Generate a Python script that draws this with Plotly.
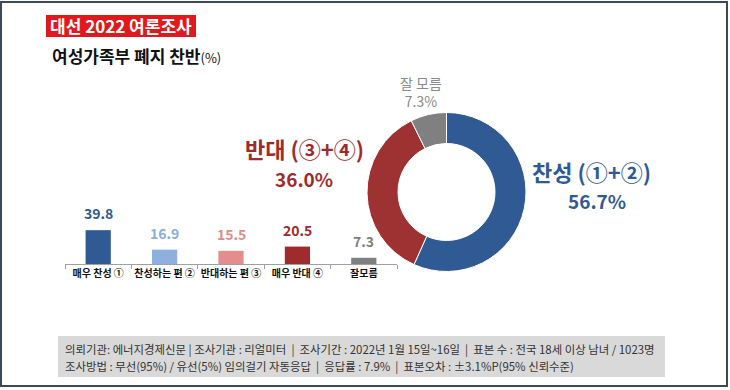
import plotly.graph_objects as go

W, H = 730, 390

# ---- data ----
categories = ["매우 찬성 ①", "찬성하는 편 ②", "반대하는 편 ③", "매우 반대 ④", "잘모름"]
values = [39.8, 16.9, 15.5, 20.5, 7.3]
bar_colors = ["#2f5a93", "#8db0de", "#e58d8d", "#9e2c2c", "#7f7f7f"]
label_colors = ["#2f5a93", "#8aaedc", "#e38a8a", "#a02a2a", "#7f7f7f"]

donut_labels = ["찬성 (①+②)", "반대 (③+④)", "잘 모름"]
donut_values = [56.7, 36.0, 7.3]
donut_colors = ["#2f5a93", "#9e3232", "#808080"]

footer_lines = [
    "의뢰기관: 에너지경제신문 | 조사기관 : 리얼미터  |  조사기간 : 2022년 1월 15일~16일  |  표본 수 : 전국 18세 이상 남녀 / 1023명",
    "조사방법 : 무선(95%) / 유선(5%) 임의걸기 자동응답  |  응답률 : 7.9%  |  표본오차 : ±3.1%P(95% 신뢰수준)",
]

FONT = "Noto Sans CJK KR"

def px(x):
    return x / W

def py(y):
    return (H - y) / H

fig = go.Figure()

fig.add_trace(go.Bar(
    x=categories, y=values, marker=dict(color=bar_colors, line=dict(width=0)),
    width=0.38, hoverinfo="skip", showlegend=False,
))

fig.add_trace(go.Pie(
    labels=donut_labels, values=donut_values, hole=0.61, sort=False,
    direction="clockwise", rotation=0,
    marker=dict(colors=donut_colors, line=dict(color="white", width=1)),
    textinfo="none", hoverinfo="skip", showlegend=False,
    domain=dict(x=[px(367), px(526)], y=[py(272), py(112)]),
))

annotations = []
for c, v, col in zip(categories, values, label_colors):
    annotations.append(dict(
        x=c, y=v, xref="x", yref="y", text=f"<b>{v}</b>", showarrow=False,
        xanchor="center", yanchor="bottom", yshift=5,
        font=dict(family=FONT, size=14, color=col),
    ))

def note(x, y, text, size, color, xanchor="center"):
    return dict(x=px(x), y=py(y), xref="paper", yref="paper", text=text,
                showarrow=False, xanchor=xanchor, yanchor="middle",
                font=dict(family=FONT, size=size, color=color))

# donut labels
annotations += [
    note(591, 171, "<b>찬성 (①+②)</b>", 22, "#2f5a93"),
    note(597, 201, "<b>56.7%</b>", 19, "#2f5a93"),
    note(304, 148, "<b>반대 (③+④)</b>", 22, "#9e2c2c"),
    note(304, 178, "<b>36.0%</b>", 19, "#9e2c2c"),
    note(421, 92, f"{donut_labels[2]}<br>{donut_values[2]}%", 14, "#8a8a8a"),
]

# title
annotations += [
    note(121, 26, "<b>대선 2022 여론조사</b>", 17, "white"),
    note(50, 55, "<b>여성가족부 폐지 찬반</b><span style='font-size:13px'>(%)</span>", 17,
         "#111111", xanchor="left"),
]

# footer
for i, line in enumerate(footer_lines):
    annotations.append(note(63, 349 + 17 * i, line, 11.4, "#333333", xanchor="left"))

shapes = [
    dict(type="rect", xref="paper", yref="paper", x0=px(1), x1=px(727), y0=py(386), y1=py(2),
         line=dict(color="#3b4a58", width=2), fillcolor="rgba(0,0,0,0)", layer="below"),
    dict(type="rect", xref="paper", yref="paper", x0=px(46), x1=px(196), y0=py(37), y1=py(15),
         line=dict(width=0), fillcolor="#e0191f", layer="below"),
    dict(type="rect", xref="paper", yref="paper", x0=px(58), x1=px(665), y0=py(377), y1=py(336),
         line=dict(width=0), fillcolor="#d9d9d9", layer="below"),
]

fig.update_layout(
    width=W, height=H, margin=dict(l=0, r=0, t=0, b=0),
    paper_bgcolor="white", plot_bgcolor="rgba(0,0,0,0)",
    font=dict(family=FONT),
    annotations=annotations, shapes=shapes,
    xaxis=dict(domain=[px(65), px(397)], range=[-0.5, 4.5], showgrid=False,
               showline=True, linecolor="#a0a0a0", linewidth=1,
               ticks="outside", tickson="boundaries", ticklen=4, tickcolor="#a0a0a0",
               tickangle=0,
               tickfont=dict(family=FONT, size=10, color="#111111", weight="bold"),
               ticklabelstandoff=0, fixedrange=True),
    yaxis=dict(domain=[py(264), py(196)], range=[0, 80], visible=False, fixedrange=True),
    bargap=0.6,
)

fig.write_html("out.html", config={"displayModeBar": False},
               post_script="document.body.style.margin='0';")
